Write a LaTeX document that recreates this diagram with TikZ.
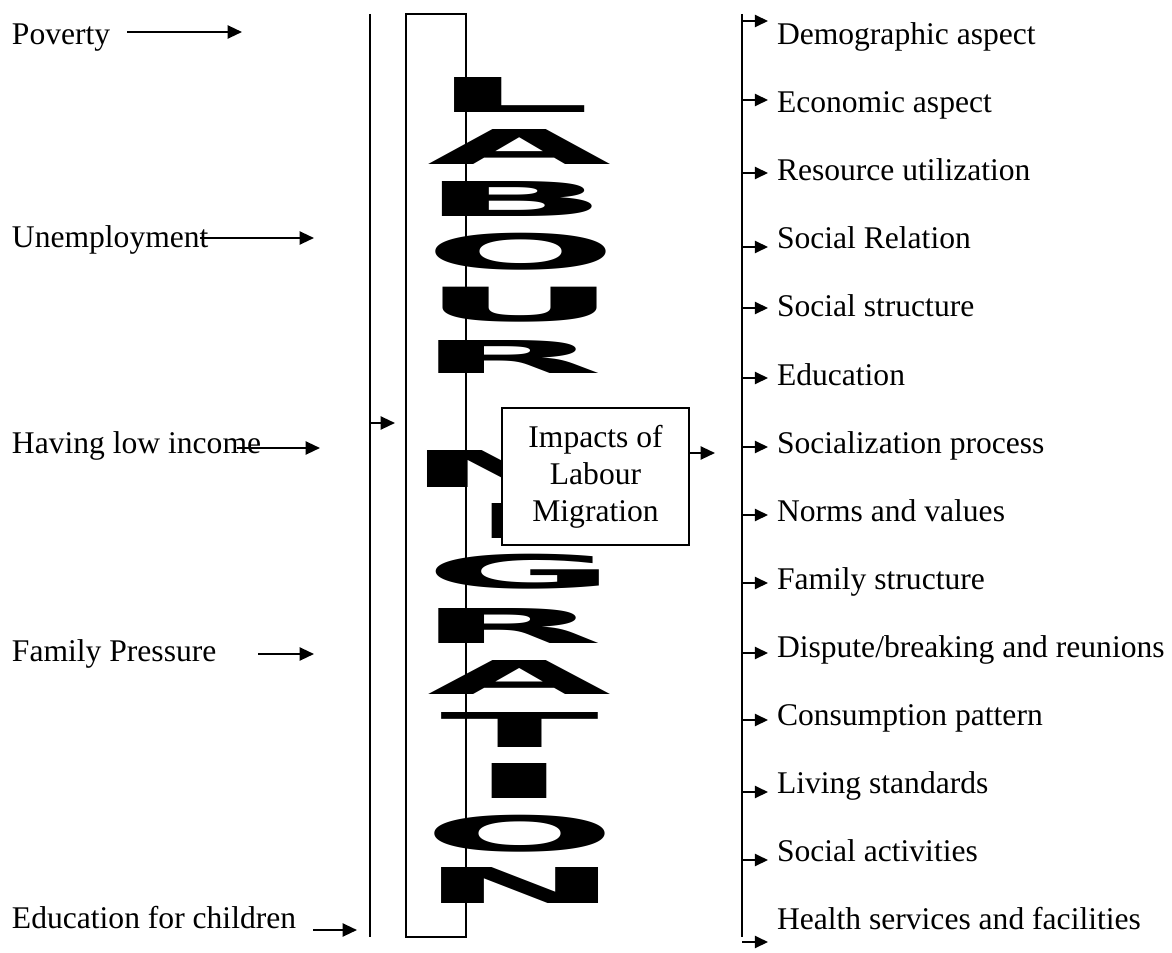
\documentclass[tikz,border=0pt]{standalone}
\usepackage{fontspec}
\setmainfont{Liberation Serif}
\newfontfamily\wafont{DejaVu Sans}
\usetikzlibrary{arrows.meta}
\newlength\upx
\setlength\upx{0.38pt}

\begin{document}
\begin{tikzpicture}[x=0.38pt,y=-0.38pt,inner sep=0pt,outer sep=0pt,
lbl/.style={anchor=base west,font=\fontsize{12}{14}\selectfont},
arr/.style={-{Triangle[length=5.5pt,width=5pt]},line width=0.8pt},
sarr/.style={-{Triangle[length=5pt,width=4.6pt]},line width=0.8pt},
impblock/.style={draw,fill=white,line width=0.6pt,minimum width=187\upx,minimum height=137\upx,align=center,font=\fontsize{12}{14}\selectfont}]
\useasboundingbox (0,0) rectangle (1172,953);

% causes on the left
\draw (12,45) node[lbl] (pov) {Poverty};
\draw (12,248) node[lbl] (unemp) {Unemployment};
\draw (12,453) node[lbl] (lowinc) {Having low income};
\draw (12,661) node[lbl] (fampr) {Family Pressure};
\draw (12,928) node[lbl] (educh) {Education for children};
\coordinate (povtip) at (242,32);
\coordinate (unemptip) at (314,238);
\coordinate (lowinctip) at (320,448);
\coordinate (famprtip) at (314,654);
\coordinate (educhtip) at (357,930);
\draw[arr] (pov.base east |- povtip) ++(17,0) -- (povtip);
\draw[arr] (unemp.base east |- unemptip) ++(-8,0) -- (unemptip);
\draw[arr] (lowinc.base east |- lowinctip) ++(-24,0) -- (lowinctip);
\draw[arr] (fampr.base east |- famprtip) ++(42,0) -- (famprtip);
\draw[arr] (educh.base east |- educhtip) ++(17,0) -- (educhtip);

% bars and the word art column
\draw[line width=1pt] (370,14) coordinate (ltop) -- (370,937) coordinate (lbot);
\draw[line width=0.8pt] (406,14) rectangle (466,937);
\draw[arr] (ltop |- 0,423) -- ++(25,0);
\foreach \ch/\xx/\yy/\ww/\hh in {L/512/95.5/160/35, A/520/147.5/184/35, B/515/199.5/190/35,
  O/521/251.5/193/37, U/520/304.5/199/35, R/510/357/187/33, M/520/468.5/227/37,
  I/520/520.5/108/35, G/521/571.5/192/35, R/510/625.5/187/35, A/520/677/184/34,
  T/520/729.5/159/35, I/520/780.5/108/35, O/520/833.5/193/37, N/520/885/201/36}
  \node at (\xx,\yy) {\resizebox*{\ww\upx}{\hh\upx}{\wafont\bfseries \ch}};

% impacts
\draw (595.5,476.5) node[impblock] (imp) {Impacts of\\Labour\\Migration};
\coordinate (impout) at (715,453);
\draw[arr] (imp.east |- impout) -- (impout);
\draw[line width=1pt] (742,14) coordinate (rtop) -- (742,937) coordinate (rbot);
\foreach \ay/\txt [count=\i] in {21/Demographic aspect, 100/Economic aspect,
  173/Resource utilization, 247/Social Relation, 308/Social structure,
  378/Education, 447/Socialization process, 515/Norms and values,
  583/Family structure, 653/Dispute\slash breaking and reunions,
  720/Consumption pattern, 792/Living standards, 860/Social activities,
  942/Health services and facilities}
{
  \draw[sarr] (rtop |- 0,\ay) -- ++(26,0);
  \draw (777,{45+68*(\i-1)}) node[lbl] (eff\i) {\txt};
}
\end{tikzpicture}
\end{document}
